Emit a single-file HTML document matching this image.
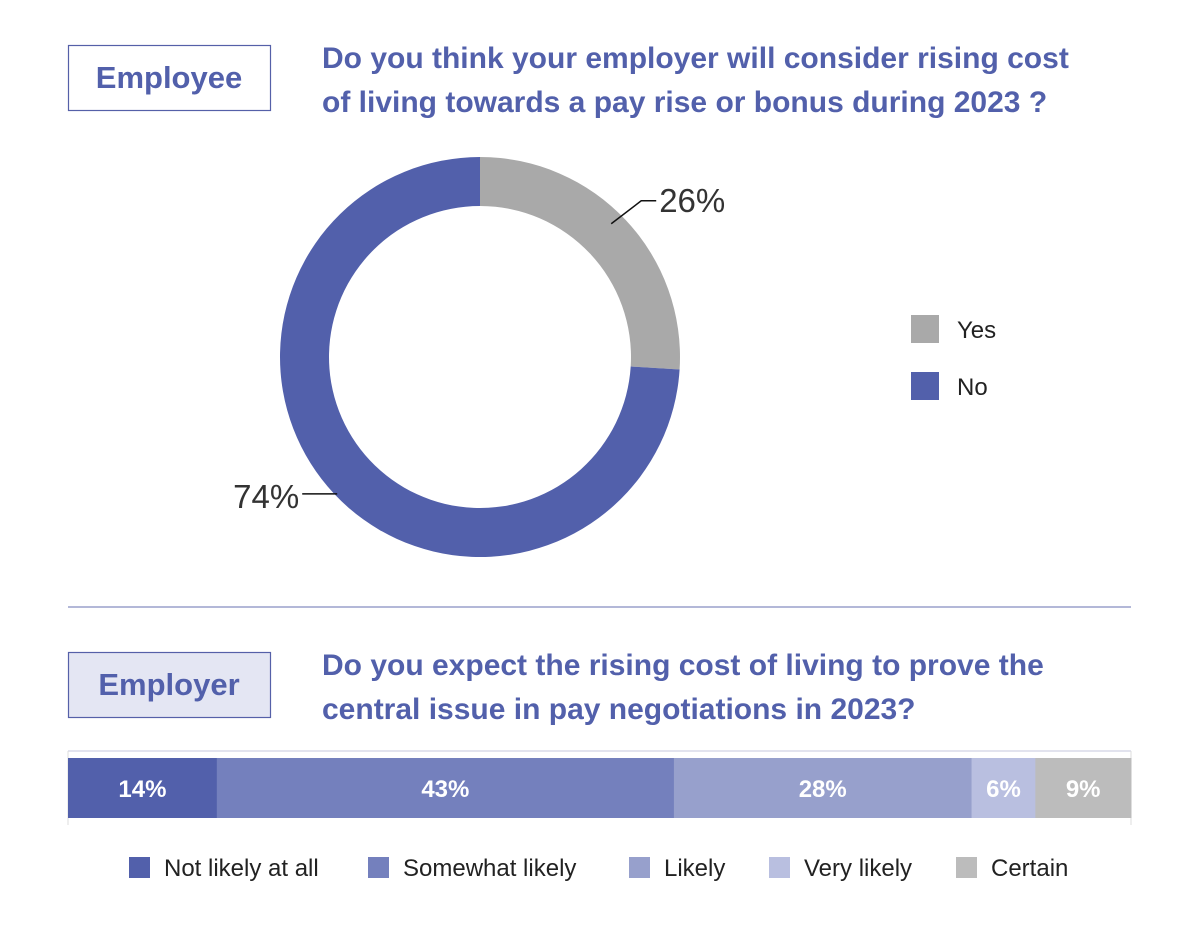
<!DOCTYPE html>
<html><head><meta charset="utf-8"><style>
body{margin:0;background:#fff;font-family:"Liberation Sans",Arial,sans-serif}
svg text{font-family:"Liberation Sans",Arial,sans-serif}
</style></head><body>
<svg width="1201" height="920" viewBox="0 0 1201 920">
<rect x="68.5" y="45.5" width="202" height="65" fill="#fff" stroke="#5560a8" stroke-width="1.2"/>
<text x="169" y="88" text-anchor="middle" font-size="31" font-weight="bold" fill="#5260ab">Employee</text>
<text x="322" y="68" font-size="30" font-weight="bold" fill="#5260ab"><tspan x="322">Do you think your employer will consider rising cost</tspan><tspan x="322" dy="44">of living towards a pay rise or bonus during 2023 ?</tspan></text>
<g id="donut"></g>
<g id="donutLabels"></g>
<rect x="911" y="315" width="28" height="28" fill="#a9a9a9"/>
<text x="957" y="338" font-size="24" fill="#222">Yes</text>
<rect x="911" y="372" width="28" height="28" fill="#5260ab"/>
<text x="957" y="395" font-size="24" fill="#222">No</text>
<line x1="68" y1="607" x2="1131" y2="607" stroke="#9aa0cc" stroke-width="1.5"/>
<rect x="68.5" y="652.5" width="202" height="65" fill="#e4e6f3" stroke="#5560a8" stroke-width="1.2"/>
<text x="169" y="695" text-anchor="middle" font-size="31" font-weight="bold" fill="#5260ab">Employer</text>
<text x="322" y="675" font-size="30" font-weight="bold" fill="#5260ab"><tspan x="322">Do you expect the rising cost of living to prove the</tspan><tspan x="322" dy="44">central issue in pay negotiations in 2023?</tspan></text>
<line x1="68" y1="751" x2="1131" y2="751" stroke="#d8dae8" stroke-width="1.5"/>
<line x1="68" y1="751" x2="68" y2="825" stroke="#ddd"/><line x1="1131" y1="751" x2="1131" y2="825" stroke="#ddd"/>
<g id="bar"></g>
<g id="legend"></g>
</svg>
<script>
const donutLabels=["Yes","No"];
const donutValues=[26,74];
const donutColors=["#a9a9a9","#5260ab"];
const barCategories=["Not likely at all","Somewhat likely","Likely","Very likely","Certain"];
const barValues=[14,43,28,6,9];
const barColors=["#5260ab","#7480bd","#97a0cc","#b9bfe0","#bcbcbc"];
const NS="http://www.w3.org/2000/svg";
function mk(t,a,p){const e=document.createElementNS(NS,t);for(const k in a)e.setAttribute(k,a[k]);p.appendChild(e);return e;}
const cx=480,cy=357,R=200,r=151;
const dg=document.getElementById('donut'),lg=document.getElementById('donutLabels');
const tot=donutValues.reduce((a,b)=>a+b,0);
let a0=0;
function pt(rad,ang){return [cx+rad*Math.sin(ang),cy-rad*Math.cos(ang)];}
donutValues.forEach((v,i)=>{
  const a1=a0+v/tot*2*Math.PI,big=(a1-a0)>Math.PI?1:0;
  const p1=pt(R,a0),p2=pt(R,a1),p3=pt(r,a1),p4=pt(r,a0);
  const p=mk('path',{d:`M${p1}L${p1}A${R},${R} 0 ${big} 1 ${p2}L${p3}A${r},${r} 0 ${big} 0 ${p4}Z`,fill:donutColors[i]},dg);
  
  
  const mid=(a0+a1)/2,e=pt(R-25,mid),right=Math.sin(mid)>0;
  let pts,tx;
  if(right){const q=pt(R-20,mid);pts=`${q[0]},${q[1]-10} ${q[0]+30},${q[1]-33} ${q[0]+45},${q[1]-33}`;tx=[q[0]+48,q[1]-22];}
  else{const q=pt(R,mid);pts=`${q[0]+3},${q[1]} ${q[0]-32},${q[1]}`;tx=[q[0]-35,q[1]+14];}
  const l=mk('polyline',{points:pts,fill:'none',stroke:'#111','stroke-width':1.5},lg);
  
  
  const t=mk('text',{x:tx[0],y:tx[1],'font-size':33,fill:'#333','text-anchor':right?'start':'end'},lg);
  t.textContent=v+'%';
  
  
  a0=a1;
});
const bx=68,bw=1063,by=758,bh=60;
const bg=document.getElementById('bar');
const btot=barValues.reduce((a,b)=>a+b,0);
let x=bx;
barValues.forEach((v,i)=>{
  const w=v/btot*bw;
  const rc=mk('rect',{x:x,y:by,width:w+0.5,height:bh,fill:barColors[i]},bg);
  
  
  const t=mk('text',{x:x+w/2,y:by+39,'text-anchor':'middle','font-size':24,'font-weight':'bold',fill:'#fff'},bg);
  t.textContent=v+'%';
  
  
  x+=w;
});
const lgd=document.getElementById('legend');
const lx=[129,368,629,769,956];
barCategories.forEach((c,i)=>{
  const s=mk('rect',{x:lx[i],y:857,width:21,height:21,fill:barColors[i]},lgd);
  
  
  const t=mk('text',{x:lx[i]+35,y:876,'font-size':24,fill:'#222'},lgd);
  t.textContent=c;
  
  
});
</script>
</body></html>
